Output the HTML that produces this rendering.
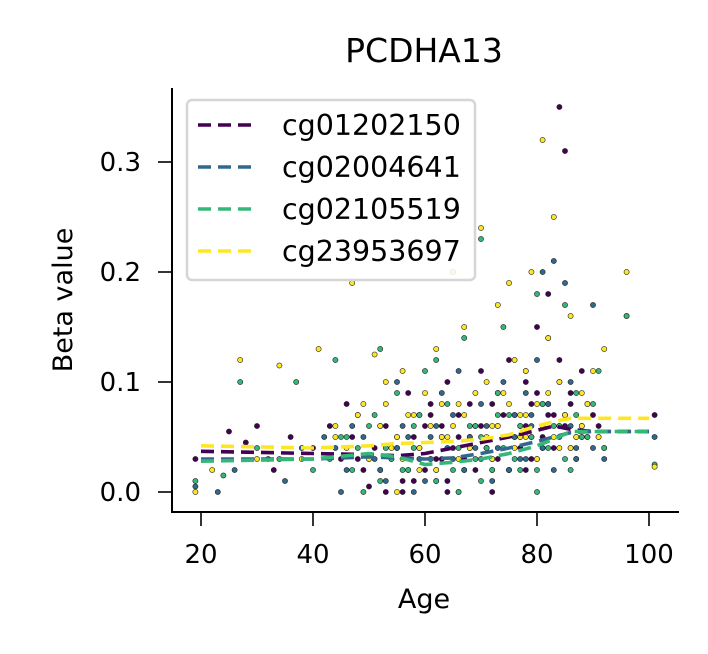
<!DOCTYPE html>
<html><head><meta charset="utf-8"><style>
body{margin:0;background:#fff}
svg text{font-family:"DejaVu Sans","Liberation Sans",sans-serif;fill:#000}
</style></head><body>
<svg id="chart" width="708" height="649" viewBox="0 0 708 649">
<rect width="708" height="649" fill="#fff"/>
<g id="points"></g>
<g id="trends"></g>
<g id="axes"></g>
<g id="legend"></g>
</svg>
<script>
const seriesNames=["cg01202150","cg02004641","cg02105519","cg23953697"];
const seriesColors=["#440154","#31688e","#35b779","#fde725"];
const xTicks=[20,40,60,80,100];
const yTicks=[0.0,0.1,0.2,0.3];
const yTickLabels=["0.0","0.1","0.2","0.3"];
const trendAges=[20,30,40,50,55,60,65,70,75,80,83,86,90,100];
const trend0=[0.037,0.036,0.035,0.034,0.033,0.035,0.040,0.045,0.050,0.056,0.060,0.057,0.055,0.055];
const trend1=[0.030,0.030,0.030,0.032,0.031,0.030,0.031,0.035,0.040,0.046,0.050,0.054,0.055,0.055];
const trend2=[0.028,0.029,0.030,0.035,0.032,0.025,0.027,0.030,0.035,0.042,0.048,0.055,0.055,0.055];
const trend3=[0.042,0.041,0.040,0.042,0.044,0.045,0.046,0.048,0.052,0.060,0.064,0.067,0.067,0.067];
const ages0=[19,25,28,30,33,36,40,43,46,48,50,52,53,55,57,58,60,61,62,63,64,66,67,68,69,70,71,72,73,74,75,76,77,78,79,80,81,82,83,84,85,86,87,88,90,92,101,52,56,64,72,78,84,88,
 45,47,49,51,53,54,56,58,59,60,61,62,63,64,65,66,67,68,69,70,71,72,73,74,75,76,77,78,79,80,81,82,83,85,86,87,89,91];
const vals0=[0.030,0.055,0.045,0.06,0.02,0.05,0.04,0.06,0.08,0.03,0.005,0.02,0.0,0.04,0.09,0.01,0.06,0.07,0.02,0.03,0.1,0.05,0.02,0.08,0.06,0.11,0.04,0.03,0.09,0.07,0.12,0.05,0.06,0.1,0.08,0.15,0.04,0.18,0.07,0.35,0.31,0.09,0.05,0.11,0.07,0.04,0.07,0.06,0.0,0.0,0.0,0.02,0.12,0.06,
 0.03,0.05,0.02,0.04,0.06,0.03,0.01,0.05,0.04,0.02,0.08,0.03,0.06,0.01,0.04,0.07,0.03,0.05,0.02,0.06,0.04,0.08,0.03,0.05,0.02,0.07,0.04,0.06,0.03,0.09,0.05,0.07,0.04,0.06,0.08,0.03,0.05,0.06];
const ages1=[19,23,26,32,35,38,42,45,47,50,52,55,57,59,60,62,63,65,66,68,69,70,72,73,74,76,77,78,79,80,81,82,83,84,85,86,87,88,89,90,92,96,101,48,58,66,75,80,86,
 44,46,49,51,53,55,56,57,59,61,62,64,65,67,68,70,71,72,73,75,76,77,78,79,81,82,83,84,85,87,88,90,91];
const vals1=[0.005,0.0,0.02,0.03,0.01,0.04,0.05,0.0,0.06,0.03,0.02,0.1,0.05,0.07,0.01,0.06,0.09,0.03,0.11,0.05,0.04,0.08,0.02,0.06,0.1,0.05,0.03,0.09,0.07,0.12,0.2,0.08,0.21,0.06,0.19,0.1,0.04,0.05,0.08,0.17,0.03,0.16,0.05,0.07,0.0,0.0,0.02,0.03,0.06,
 0.04,0.02,0.05,0.03,0.01,0.04,0.06,0.02,0.03,0.05,0.01,0.04,0.07,0.02,0.05,0.03,0.06,0.01,0.04,0.02,0.07,0.05,0.03,0.06,0.04,0.08,0.02,0.05,0.07,0.03,0.06,0.04,0.05];
const ages2=[19,24,27,30,34,37,40,44,46,49,51,53,55,56,58,60,61,63,64,66,67,69,70,71,73,74,75,77,78,79,80,81,82,83,84,85,86,87,88,90,91,96,101,52,62,70,80,86,
 43,45,47,48,50,52,54,55,57,58,59,61,62,63,65,66,68,69,70,72,73,74,76,77,79,80,81,82,84,85,87,89,92];
const vals2=[0.01,0.015,0.1,0.04,0.03,0.1,0.02,0.12,0.05,0.0,0.07,0.04,0.09,0.02,0.06,0.11,0.03,0.05,0.08,0.0,0.14,0.06,0.23,0.04,0.09,0.15,0.07,0.02,0.11,0.05,0.18,0.08,0.14,0.06,0.1,0.17,0.04,0.09,0.05,0.08,0.11,0.16,0.025,0.13,0.12,0.01,0.0,0.02,
 0.03,0.05,0.02,0.04,0.06,0.01,0.03,0.05,0.02,0.04,0.07,0.03,0.01,0.05,0.02,0.04,0.06,0.03,0.05,0.02,0.07,0.04,0.03,0.06,0.05,0.02,0.08,0.04,0.06,0.03,0.07,0.05,0.04];
const ages3=[19,22,27,30,34,38,41,44,47,49,51,53,54,56,57,59,60,62,63,65,66,67,68,70,71,72,73,74,75,76,77,78,79,80,81,82,83,84,85,86,87,88,90,92,96,101,55,65,72,78,84,
 44,46,48,50,52,53,55,56,58,59,61,62,63,64,66,67,68,69,71,72,73,75,76,77,78,80,81,82,83,85,86,88,89,91];
const vals3=[0.0,0.02,0.12,0.03,0.115,0.03,0.13,0.06,0.19,0.08,0.125,0.1,0.04,0.11,0.07,0.02,0.09,0.13,0.05,0.2,0.08,0.15,0.04,0.24,0.1,0.06,0.17,0.09,0.19,0.12,0.05,0.11,0.2,0.08,0.32,0.14,0.25,0.1,0.07,0.16,0.05,0.09,0.11,0.13,0.2,0.023,0.0,0.06,0.03,0.07,0.04,
 0.05,0.04,0.07,0.03,0.06,0.08,0.05,0.03,0.07,0.04,0.06,0.02,0.08,0.05,0.03,0.07,0.04,0.09,0.05,0.03,0.06,0.08,0.04,0.07,0.05,0.03,0.06,0.09,0.05,0.07,0.04,0.06,0.08,0.05];
const agesAll=[ages0,ages1,ages2,ages3];
const valsAll=[vals0,vals1,vals2,vals3];
const trends=[trend0,trend1,trend2,trend3];
const NS="http://www.w3.org/2000/svg";
const xS=a=>201+(a-20)*(649-201)/80;
const yS=v=>492-v*1100;
function mk(t,at,parent){const e=document.createElementNS(NS,t);for(const k in at)e.setAttribute(k,at[k]);parent.appendChild(e);return e;}
const P=document.getElementById('points');
for(let s=0;s<4;s++){for(let i=0;i<agesAll[s].length;i++){
 const c=mk('circle',{cx:xS(agesAll[s][i]),cy:yS(valsAll[s][i]),r:2.6,fill:seriesColors[s],stroke:'#222','stroke-width':0.6},P);
 
 
}}
const T=document.getElementById('trends');
for(let s=0;s<4;s++){
 const pts=trendAges.map((a,i)=>xS(a)+','+yS(trends[s][i])).join(' ');
 const l=mk('polyline',{points:pts,fill:'none',stroke:seriesColors[s],'stroke-width':3.6,'stroke-dasharray':'13,7'},T);
 
 
}
const A=document.getElementById('axes');
mk('line',{x1:172,y1:88,x2:172,y2:513,stroke:'#000','stroke-width':2},A);
mk('line',{x1:171,y1:512,x2:679,y2:512,stroke:'#000','stroke-width':2},A);
xTicks.forEach(t=>{mk('line',{x1:xS(t),y1:512,x2:xS(t),y2:526,stroke:'#000','stroke-width':1.6},A);
 const tx=mk('text',{x:xS(t),y:563,'font-size':26,'text-anchor':'middle'},A);tx.textContent=t;
 });
yTicks.forEach((t,i)=>{mk('line',{x1:158,y1:yS(t),x2:172,y2:yS(t),stroke:'#000','stroke-width':1.6},A);
 const tx=mk('text',{x:141,y:yS(t)+9,'font-size':26,'text-anchor':'end'},A);tx.textContent=yTickLabels[i];
 });
let e=mk('text',{x:424,y:608,'font-size':27,'text-anchor':'middle'},A);e.textContent='Age';

e=mk('text',{x:72,y:300,'font-size':27,'text-anchor':'middle',transform:'rotate(-90 72 300)'},A);e.textContent='Beta value';

e=mk('text',{x:424,y:62,'font-size':33,'text-anchor':'middle'},A);e.textContent='PCDHA13';

const L=document.getElementById('legend');
mk('rect',{x:187,y:100,width:288,height:180,rx:5,fill:'#fff','fill-opacity':0.85,stroke:'#d6d6d6','stroke-width':2.5},L);
seriesNames.forEach((n,i)=>{const y=125+i*42;
 mk('line',{x1:198,y1:y,x2:258,y2:y,stroke:seriesColors[i],'stroke-width':3.6,'stroke-dasharray':'13,7'},L);
 const t=mk('text',{x:282,y:y+10,'font-size':28.5},L);t.textContent=n;
 });
</script>
</body></html>
